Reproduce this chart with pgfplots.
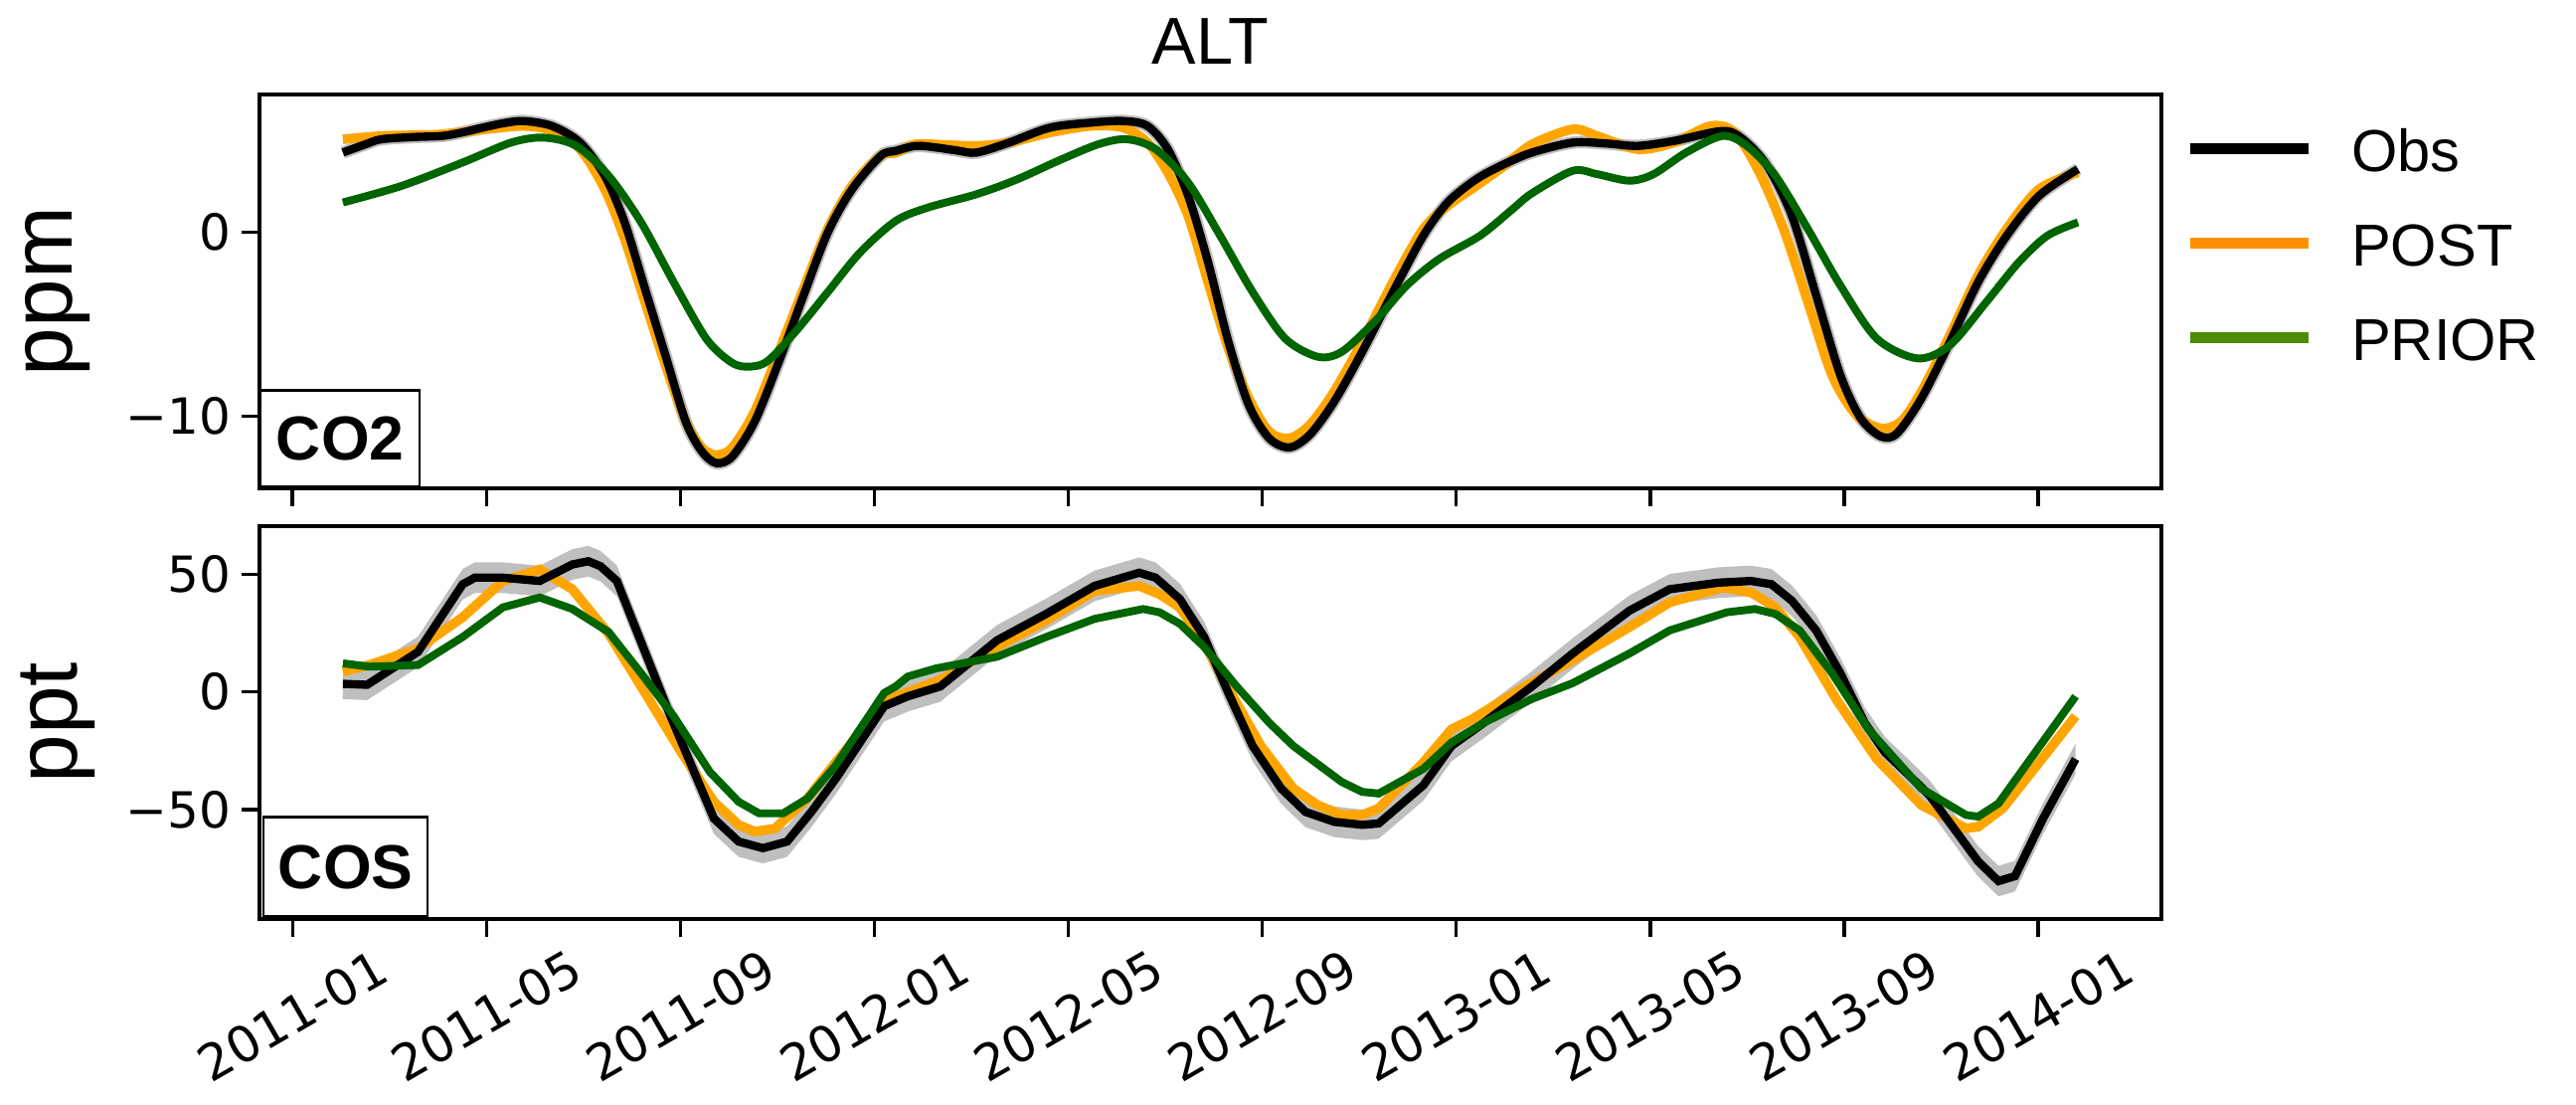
\documentclass[border=0pt]{standalone}
\usepackage{fontspec}
\setmainfont{Liberation Sans}
\newfontfamily\dejavu{DejaVu Sans}
\usepackage{pgfplots}
\pgfplotsset{compat=1.18}
\usepgfplotslibrary{fillbetween}

\definecolor{obsband}{RGB}{191,191,191}
\definecolor{postc}{RGB}{255,165,0}
\definecolor{priorc}{RGB}{0,100,0}
\definecolor{postleg}{RGB}{255,145,0}
\definecolor{priorleg}{RGB}{77,140,0}

% COS observations with uncertainty band
\pgfplotstableread{
x obs lo hi
1.04 3.4 -3.1 9.9
1.54 3.0 -3.5 9.5
2.59 17.0 10.5 23.5
3.51 45.7 39.2 52.2
3.76 48.5 42.0 55.0
4.34 48.5 42.0 55.0
5.10 47.1 40.6 53.6
5.77 54.1 47.6 60.6
6.10 55.5 49.0 62.0
6.35 53.4 46.9 59.9
6.69 47.1 40.6 53.6
7.77 -9.0 -15.5 -2.5
8.69 -53.8 -60.3 -47.3
9.20 -63.6 -70.1 -57.1
9.70 -66.4 -72.9 -59.9
10.20 -63.6 -70.1 -57.1
10.70 -51.0 -57.5 -44.5
11.20 -37.0 -43.5 -30.5
12.20 -6.1 -12.6 0.4
12.69 -1.9 -8.4 4.6
13.36 2.3 -4.2 8.8
14.53 21.9 15.4 28.4
15.54 33.1 26.6 39.6
16.54 45.0 38.5 51.5
17.46 50.6 44.1 57.1
17.80 48.5 42.0 55.0
18.30 39.4 32.9 45.9
18.80 23.3 16.8 29.8
19.30 -0.5 -7.0 6.0
19.80 -23.0 -29.5 -16.5
20.39 -41.1 -47.6 -34.6
20.89 -51.0 -57.5 -44.5
21.48 -55.2 -61.7 -48.7
22.06 -56.5 -63.0 -50.0
22.40 -55.9 -62.4 -49.4
23.32 -39.7 -46.2 -33.2
23.90 -23.0 -29.5 -16.5
24.57 -13.1 -19.6 -6.6
25.56 2.3 -4.2 8.8
26.40 16.3 9.8 22.8
27.57 34.5 28.0 41.0
28.40 43.6 37.1 50.1
29.41 46.4 39.9 52.9
30.08 47.1 40.6 53.6
30.50 45.7 39.2 52.2
30.92 38.7 32.2 45.2
31.42 26.1 19.6 32.6
31.92 7.9 1.4 14.4
32.42 -13.1 -19.6 -6.6
32.84 -25.7 -32.2 -19.2
33.34 -35.5 -42.0 -29.0
33.76 -44.0 -50.5 -37.5
34.26 -58.0 -64.5 -51.5
34.76 -72.0 -78.5 -65.5
35.18 -80.4 -86.9 -73.9
35.52 -78.3 -84.8 -71.8
36.10 -53.8 -60.3 -47.3
36.77 -28.5 -35.0 -22.0
}\cosobs

\pgfplotsset{
  panel/.style={
    scale only axis, width=459.12pt,
    xmin=-0.68, xmax=38.54,
    axis line style={line width=1pt},
    tick style={line width=0.8pt, black},
    tick align=outside, major tick length=4.3pt,
    tick pos=left,
    xtick={0,4,...,36},
    yticklabel style={font=\dejavu\fontsize{12}{14}\selectfont, inner sep=0pt},
    yticklabel shift=2.4pt,
    ylabel style={at={(axis description cs:-0.106,0.5)}, anchor=center,
      font=\fontsize{21}{25}\selectfont},
  },
}

\begin{document}
\begin{tikzpicture}

% ---- CO2 panel ----
\begin{axis}[panel,
  at={(62.64pt,-22.8pt)}, anchor=north west,
  height=95.04pt,
  ymin=-13.91, ymax=7.46,
  ytick={-10,0}, yticklabels={−10,0},
  xticklabels={},
  ylabel={ppm},
  title={ALT},
  title style={font=\fontsize{16}{19}\selectfont, anchor=base, yshift=1.4pt},
  legend cell align=left,
  legend image code/.code={\draw[#1, line width=2.6pt] (0pt,1.6pt) -- (28.6pt,1.6pt);},
  legend style={draw=none, fill=none, at={(rel axis cs:1,1)}, anchor=north west,
    xshift=5.5pt, yshift=-7.5pt, inner sep=0pt, row sep=8.8pt,
    font=\fontsize{14.3}{17}\selectfont,
    nodes={inner sep=0pt, text height=11pt, text depth=3pt},
    /tikz/every odd column/.append style={column sep=9pt}},
]
\addlegendimage{black}
\addlegendimage{postleg}
\addlegendimage{priorleg}
\legend{Obs,POST,PRIOR}

% Obs uncertainty (thin halo)
\addplot[obsband, line width=3pt, smooth] coordinates {
(1.04,4.31) (1.5,4.75) (1.83,5.03) (2.5,5.15) (3.09,5.21) (3.5,5.4) (3.92,5.66)
(4.35,5.9) (4.76,6.02) (5.35,5.75) (5.93,4.85) (6.44,3.05) (6.85,0.52) (7.27,-3.08)
(7.69,-6.68) (8.11,-10.29) (8.44,-11.9) (8.74,-12.54) (9.07,-12.18) (9.53,-10.29)
(10.03,-7.04) (10.54,-3.44) (11.04,-0.02) (11.54,2.32) (12.13,4.13) (12.44,4.40)
(12.86,4.67) (13.28,4.58) (13.7,4.42) (14.11,4.31) (14.78,4.85) (15.62,5.66)
(16.46,5.93) (17.13,6.02) (17.63,5.75) (18.05,4.49) (18.47,1.97) (18.88,-1.64)
(19.30,-5.96) (19.72,-9.39) (20.14,-11.19) (20.56,-11.69) (20.98,-11.0) (21.48,-9.21)
(22.06,-6.50) (22.73,-3.08) (23.32,-0.20) (23.82,1.60) (24.41,2.86) (24.99,3.68)
(25.56,4.31) (26.40,4.85) (27.1,4.8) (27.74,4.67) (28.49,4.94) (29.49,5.48)
(29.91,5.03) (30.41,3.59) (30.92,0.88) (31.42,-3.44) (31.92,-7.77) (32.34,-10.11)
(32.76,-11.1) (33.09,-10.92) (33.59,-9.03) (34.18,-5.96) (34.76,-2.72) (35.35,-0.20)
(36.02,1.97) (36.82,3.41)
};
% POST
\addplot[postc, line width=2.3pt, smooth] coordinates {
(1.04,5.03) (1.83,5.21) (2.5,5.25) (3.09,5.3) (3.92,5.55) (4.76,5.75) (5.35,5.5)
(5.93,4.5) (6.44,2.32) (6.85,-0.38) (7.27,-3.8) (7.69,-7.2) (8.11,-10.3) (8.44,-11.7)
(8.74,-12.1) (9.07,-11.7) (9.53,-9.75) (10.03,-6.5) (10.54,-3.08) (11.04,0.16)
(11.54,2.5) (12.13,4.13) (12.44,4.3) (12.86,4.76) (13.5,4.72) (14.11,4.67)
(14.78,4.85) (15.62,5.39) (16.46,5.75) (17.13,5.66) (17.63,4.85) (18.05,3.23)
(18.47,0.88) (18.88,-2.72) (19.30,-6.32) (19.72,-9.03) (20.14,-10.83) (20.56,-11.19)
(20.98,-10.47) (21.48,-8.67) (22.06,-5.96) (22.73,-2.54) (23.32,0.16) (23.82,1.42)
(24.41,2.5) (24.99,3.59) (25.56,4.75) (26.40,5.57) (26.9,5.21) (27.74,4.49)
(28.49,4.85) (29.24,5.75) (29.74,5.39) (30.25,3.23) (30.75,0.16) (31.25,-3.8)
(31.75,-7.77) (32.25,-9.93) (32.76,-10.65) (33.17,-10.29) (33.59,-8.67) (34.18,-5.6)
(34.76,-2.36) (35.35,0.16) (36.02,2.32) (36.82,3.23)
};
% Obs
\addplot[black, line width=2pt, smooth] coordinates {
(1.04,4.31) (1.5,4.75) (1.83,5.03) (2.5,5.15) (3.09,5.21) (3.5,5.4) (3.92,5.66)
(4.35,5.9) (4.76,6.02) (5.35,5.75) (5.93,4.85) (6.44,3.05) (6.85,0.52) (7.27,-3.08)
(7.69,-6.68) (8.11,-10.29) (8.44,-11.9) (8.74,-12.54) (9.07,-12.18) (9.53,-10.29)
(10.03,-7.04) (10.54,-3.44) (11.04,-0.02) (11.54,2.32) (12.13,4.13) (12.44,4.40)
(12.86,4.67) (13.28,4.58) (13.7,4.42) (14.11,4.31) (14.78,4.85) (15.62,5.66)
(16.46,5.93) (17.13,6.02) (17.63,5.75) (18.05,4.49) (18.47,1.97) (18.88,-1.64)
(19.30,-5.96) (19.72,-9.39) (20.14,-11.19) (20.56,-11.69) (20.98,-11.0) (21.48,-9.21)
(22.06,-6.50) (22.73,-3.08) (23.32,-0.20) (23.82,1.60) (24.41,2.86) (24.99,3.68)
(25.56,4.31) (26.40,4.85) (27.1,4.8) (27.74,4.67) (28.49,4.94) (29.49,5.48)
(29.91,5.03) (30.41,3.59) (30.92,0.88) (31.42,-3.44) (31.92,-7.77) (32.34,-10.11)
(32.76,-11.1) (33.09,-10.92) (33.59,-9.03) (34.18,-5.96) (34.76,-2.72) (35.35,-0.20)
(36.02,1.97) (36.82,3.41)
};
% PRIOR
\addplot[priorc, line width=1.9pt, smooth] coordinates {
(1.04,1.60) (2.25,2.5) (3.51,3.77) (4.51,4.85) (5.18,5.12) (5.85,4.67) (6.52,3.05)
(7.19,0.52) (7.86,-2.72) (8.53,-5.78) (9.03,-7.04) (9.36,-7.31) (9.78,-7.04)
(10.37,-5.42) (11.04,-3.26) (11.71,-1.1) (12.44,0.6) (13.11,1.33) (14.11,2.05)
(14.95,2.86) (15.79,3.86) (16.62,4.76) (17.21,5.03) (17.8,4.49) (18.47,2.68)
(19.13,-0.2) (19.8,-3.26) (20.47,-5.78) (21.14,-6.77) (21.64,-6.5) (22.31,-4.88)
(22.98,-2.9) (23.65,-1.46) (24.49,-0.2) (25.16,1.24) (25.56,2.1) (26.4,3.32)
(26.9,3.14) (27.57,2.78) (28.07,3.14) (28.74,4.31) (29.49,5.21) (29.99,4.67)
(30.58,3.05) (31.25,0.16) (31.92,-2.9) (32.67,-5.78) (33.51,-6.86) (34.18,-6.14)
(34.93,-3.8) (35.6,-1.64) (36.19,-0.2) (36.82,0.52)
};
\node[draw, line width=0.6pt, fill=white, anchor=south west, inner sep=0pt,
  minimum width=38.4pt, minimum height=23.3pt,
  font=\bfseries\fontsize{15}{18}\selectfont] at (rel axis cs:0,0) {CO2};
\end{axis}

% ---- COS panel ----
\begin{axis}[panel,
  at={(62.64pt,-126.96pt)}, anchor=north west,
  height=94.8pt,
  ymin=-96.5, ymax=70.4,
  ytick={-50,0,50}, yticklabels={−50,0,50},
  xticklabels={2011-01,2011-05,2011-09,2012-01,2012-05,2012-09,2013-01,2013-05,2013-09,2014-01},
  xticklabel style={font=\dejavu\fontsize{12}{14}\selectfont, rotate=30, anchor=center},
  xticklabel shift=19pt,
  ylabel={ppt},
]
\addplot[draw=none, name path=hi, forget plot] table[x=x, y=hi] {\cosobs};
\addplot[draw=none, name path=lo, forget plot] table[x=x, y=lo] {\cosobs};
\addplot[obsband, draw=none, forget plot] fill between[of=hi and lo];
% POST
\addplot[postc, line width=2.3pt] coordinates {
(1.04,8.6) (1.58,11.4) (2.59,18.4) (3.51,31.7) (4.34,47.1) (5.1,52.0) (5.77,43.6)
(6.52,24.7) (7.19,2.3) (8.02,-25.7) (8.69,-46.7) (9.2,-56.5) (9.53,-59.4) (9.95,-58.0)
(10.62,-45.3) (11.2,-30.0) (12.2,-5.0) (12.44,-2.0) (13.36,5.1) (14.53,19.1)
(15.54,30.3) (16.54,42.9) (17.46,45.0) (17.88,41.5) (18.3,35.9) (18.8,20.5)
(19.39,-1.9) (19.97,-23.0) (20.64,-41.1) (21.14,-48.1) (21.64,-52.3) (22.06,-52.3)
(22.4,-49.5) (23.32,-30.0) (23.9,-15.9) (24.32,-11.7) (25.56,4.0) (26.4,13.5)
(27.57,27.5) (28.4,38.0) (29.49,44.3) (30.08,42.2) (30.58,35.9) (31.08,23.3)
(31.84,-3.3) (32.67,-28.5) (33.59,-48.1) (34.51,-58.0) (34.76,-57.3) (35.27,-49.5)
(36.77,-10.3)
};
% Obs
\addplot[black, line width=2pt] table[x=x, y=obs] {\cosobs};
% PRIOR
\addplot[priorc, line width=1.9pt] coordinates {
(1.04,12.1) (1.58,10.7) (2.59,11.4) (3.51,23.3) (4.34,35.9) (5.1,40.1) (5.77,35.2)
(6.52,25.4) (7.19,7.9) (7.86,-10.3) (8.61,-34.1) (9.2,-46.7) (9.62,-51.6) (10.12,-51.6)
(10.62,-45.3) (11.2,-31.3) (12.2,-0.5) (12.44,2.3) (12.69,6.5) (13.28,10.0)
(14.53,14.9) (15.54,23.3) (16.54,31.0) (17.54,35.2) (17.88,33.8) (18.3,28.9)
(18.8,19.1) (19.47,2.3) (20.14,-13.1) (20.64,-23.0) (21.64,-38.3) (22.06,-42.5)
(22.4,-43.2) (23.32,-32.7) (23.9,-21.5) (24.57,-13.1) (25.56,-3.0) (26.4,3.7)
(27.57,16.3) (28.4,26.1) (29.58,33.8) (30.16,35.2) (30.58,33.1) (31.08,26.1)
(31.75,7.9) (32.5,-15.9) (33.59,-41.1) (34.51,-52.3) (34.76,-53.0) (35.18,-47.4)
(36.77,-1.9)
};
\node[draw, line width=0.6pt, fill=white, anchor=south west, inner sep=0pt,
  minimum width=39.6pt, minimum height=24pt, xshift=0.7pt, yshift=0.3pt,
  font=\bfseries\fontsize{15}{18}\selectfont] at (rel axis cs:0,0) {COS};
\end{axis}

\pgfresetboundingbox
\path[use as bounding box] (0,0) rectangle (621.84pt,-266.64pt);
\end{tikzpicture}
\end{document}
